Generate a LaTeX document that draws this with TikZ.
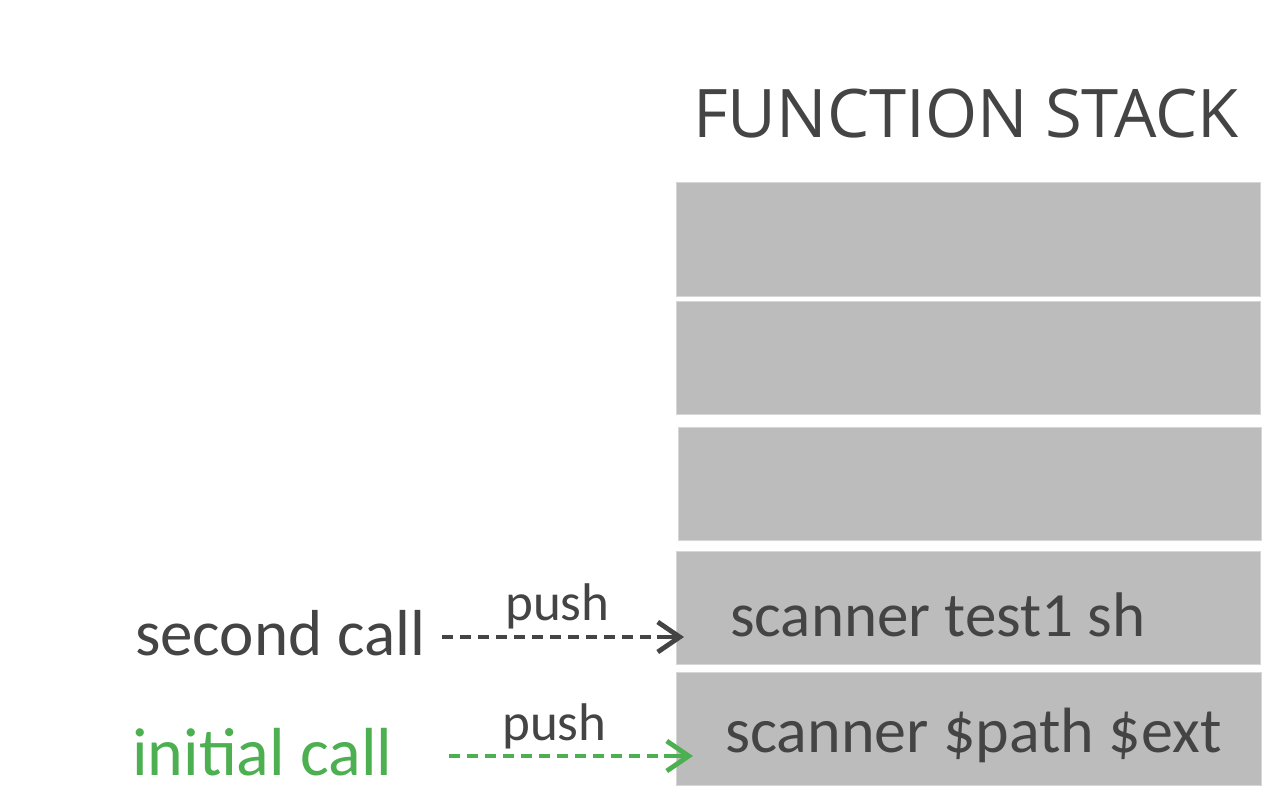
\documentclass[tikz,border=0pt]{standalone}
\usepackage{fontspec}
\setmainfont{Carlito}
\newfontfamily\titlefont{Open Sans}
\usetikzlibrary{arrows.meta}
\definecolor{dk}{HTML}{444444}
\definecolor{gr}{HTML}{4CAF50}
\definecolor{boxfill}{HTML}{BCBCBC}
\definecolor{boxedge}{HTML}{D6D6D6}
\tikzset{
  stackbox/.style={fill=boxfill, draw=boxedge, line width=1pt},
  lbl/.style={text=dk, inner sep=0pt, anchor=base west},
  dashline/.style={line width=4.8pt, dash pattern=on 11pt off 7pt, shorten >=6pt},
  tipline/.style={line width=4.8pt, shorten <=215pt, -{Straight Barb[length=22pt,width=30pt,line width=4.8pt]}},
}
\begin{document}
\begin{tikzpicture}[x=1pt,y=-1pt]
\useasboundingbox (0,0) rectangle (1280,800);
\fill[white] (0,0) rectangle (1280,800);
\node[lbl, anchor=base west, font=\titlefont\fontsize{67}{67}\selectfont] (title) at (693,137) {FUNCTION STACK};
\draw[stackbox] (676,182) rectangle (1260,296);
\draw[stackbox] (676,301) rectangle (1260,414);
\draw[stackbox] (678,427) rectangle (1261,540);
\draw[stackbox] (676,551) rectangle (1260,664);
\draw[stackbox] (676,672) rectangle (1261,785);
\coordinate (s4) at (684,637);
\coordinate (s5) at (693,756);
\node[lbl, font=\fontsize{63}{63}\selectfont] (t4) at (730,636) {scanner test1 sh};
\node[lbl, font=\fontsize{64}{64}\selectfont] (t5) at (725,752) {scanner \$path \$ext};
\node[lbl, font=\fontsize{65}{65}\selectfont] (sc) at (135,655) {second call};
\node[lbl, text=gr, font=\fontsize{68}{68}\selectfont] (ic) at (132,775) {initial call};
\coordinate (a4) at (442,637);
\coordinate (a5) at (449,756);
\draw[dashline, dk] (a4) -- (s4);
\draw[tipline, dk] (a4) -- (s4);
\draw[dashline, gr] (a5) -- (s5);
\draw[tipline, gr] (a5) -- (s5);
\node[lbl, font=\fontsize{53}{53}\selectfont] (p4) at (505,620) {push};
\node[lbl, font=\fontsize{53}{53}\selectfont] (p5) at (502,740) {push};
\end{tikzpicture}
\end{document}
